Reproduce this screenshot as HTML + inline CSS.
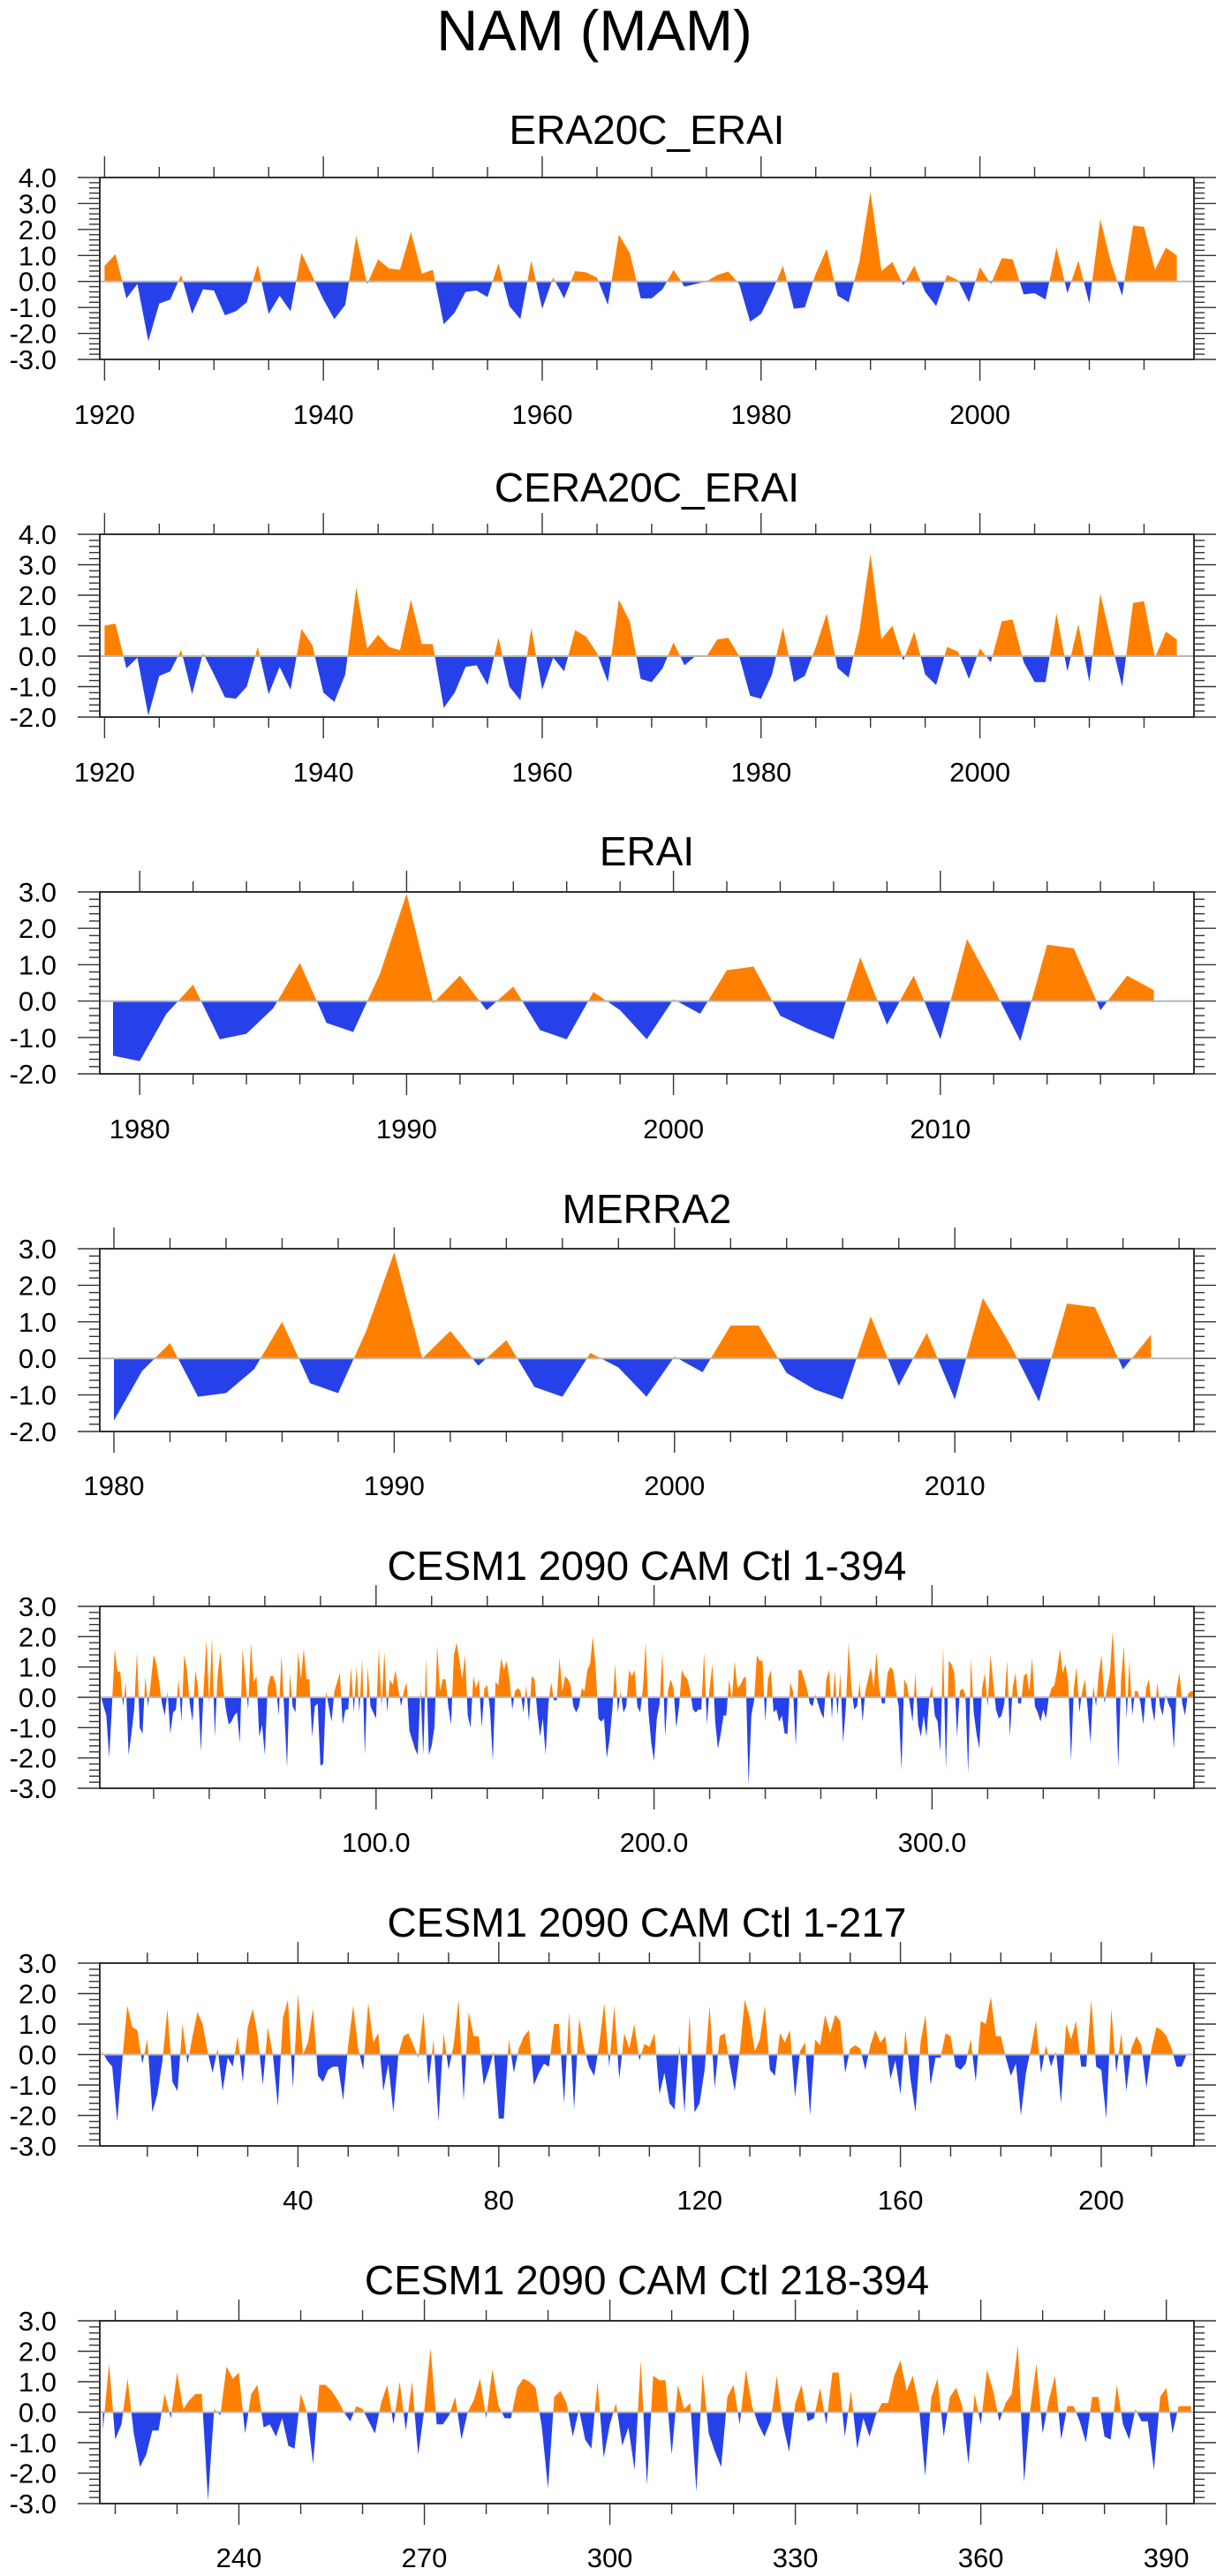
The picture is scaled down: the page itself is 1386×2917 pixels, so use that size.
<!DOCTYPE html>
<html><head><meta charset="utf-8"><title>NAM (MAM)</title>
<style>
html,body{margin:0;padding:0;background:#fff;}
svg{display:block;font-family:"Liberation Sans",Arial,sans-serif;}
</style></head>
<body>
<svg id="chart" width="1386" height="2917" viewBox="0 0 1386 2917" xmlns="http://www.w3.org/2000/svg">
<text x="673" y="57" font-size="65" text-anchor="middle">NAM (MAM)</text>
</svg>
<script>
// ---- data ----
const yearsA = Array.from({length:99},(_,k)=>1920+k);
const era20c = [0.6,1.05,-0.65,-0.1,-2.3,-0.85,-0.7,0.25,-1.25,-0.3,-0.35,-1.3,-1.15,-0.8,0.65,-1.25,-0.55,-1.15,1.1,0.2,-0.7,-1.45,-0.9,1.75,-0.1,0.85,0.5,0.45,1.9,0.3,0.45,-1.65,-1.2,-0.4,-0.35,-0.6,0.7,-0.95,-1.45,0.8,-1.05,0.15,-0.65,0.4,0.35,0.15,-0.9,1.8,1.1,-0.65,-0.65,-0.3,0.45,-0.2,-0.1,0.0,0.25,0.38,-0.1,-1.55,-1.25,-0.4,0.6,-1.05,-1.0,0.3,1.25,-0.55,-0.8,0.8,3.45,0.4,0.75,-0.15,0.6,-0.4,-0.95,0.25,0.05,-0.8,0.55,-0.1,0.9,0.85,-0.5,-0.45,-0.7,1.3,-0.45,0.8,-0.85,2.4,0.7,-0.55,2.15,2.1,0.45,1.3,1.0];
const cera20c = [1.0,1.07,-0.4,-0.05,-1.95,-0.65,-0.5,0.2,-1.25,0.1,-0.6,-1.35,-1.4,-1.0,0.3,-1.25,-0.35,-1.1,0.9,0.35,-1.2,-1.5,-0.6,2.25,0.25,0.7,0.3,0.2,1.85,0.4,0.4,-1.7,-1.2,-0.35,-0.3,-0.95,0.6,-1.0,-1.45,0.92,-1.1,-0.05,-0.5,0.85,0.65,0.1,-0.85,1.85,1.15,-0.75,-0.85,-0.4,0.45,-0.3,0.0,-0.02,0.55,0.6,0.0,-1.3,-1.4,-0.6,0.95,-0.85,-0.65,0.3,1.4,-0.4,-0.7,0.85,3.35,0.55,1.0,-0.15,0.8,-0.6,-0.95,0.3,0.15,-0.75,0.25,-0.2,1.15,1.2,-0.2,-0.85,-0.85,1.4,-0.5,1.05,-0.85,2.05,0.5,-1.0,1.75,1.8,-0.05,0.8,0.55];
const yearsE = Array.from({length:40},(_,k)=>1979+k);
const erai = [-1.5,-1.65,-0.35,0.45,-1.05,-0.9,-0.2,1.05,-0.6,-0.85,0.75,2.95,-0.05,0.7,-0.25,0.4,-0.8,-1.05,0.25,-0.25,-1.05,0.05,-0.35,0.85,0.95,-0.4,-0.75,-1.05,1.2,-0.65,0.7,-1.05,1.7,0.35,-1.1,1.55,1.45,-0.25,0.7,0.3];
const yearsM = Array.from({length:38},(_,k)=>1980+k);
const merra2 = [-1.7,-0.35,0.42,-1.05,-0.95,-0.3,1.0,-0.68,-0.95,0.75,2.9,0.0,0.75,-0.2,0.5,-0.78,-1.05,0.15,-0.25,-1.05,0.05,-0.38,0.9,0.9,-0.4,-0.85,-1.12,1.15,-0.75,0.7,-1.12,1.65,0.35,-1.18,1.5,1.4,-0.3,0.65];
const cesmAll = [0.05,-0.3,-0.6,-2.0,-0.3,1.6,0.85,0.85,-0.3,0.5,
-1.9,-1.2,-0.4,1.5,-1.0,-1.2,0.7,-0.3,0.5,1.4,
1.1,0.5,-0.2,-0.6,0.2,-1.2,-0.5,-0.4,0.6,-0.8,
1.4,0.9,-0.2,-0.8,0.9,0.3,-1.8,0.3,1.9,-0.2,
2.0,-1.3,0.7,1.5,0.3,-0.4,-0.9,-0.8,-0.6,-0.5,
-1.5,1.6,0.6,-0.4,1.8,0.5,0.7,-1.3,-0.9,-1.9,
0.3,0.7,0.7,0.4,-0.6,1.4,-0.5,-2.3,0.8,-0.3,
-0.5,1.5,0.6,1.6,0.6,0.6,-1.3,-0.3,-0.2,-2.25,
-2.2,0.2,-0.3,-0.8,0.2,0.5,0.8,-0.9,-0.4,-0.4,
1.0,-0.5,1.0,-0.5,1.3,-1.9,1.0,-0.3,-0.5,-0.7,
1.6,-0.3,1.5,-0.5,0.6,0.4,0.9,0.3,-0.3,0.2,
0.5,-1.1,-1.4,-1.7,-1.9,0.3,-1.9,1.3,-1.9,-1.6,
-1.0,1.7,0.2,0.6,0.6,-0.3,-0.9,1.4,1.8,1.2,
0.6,1.4,-0.6,-1.0,0.7,0.3,0.6,-1.0,0.3,0.4,
-0.4,-2.1,0.5,0.4,1.3,0.9,1.2,0.6,-0.4,0.2,
0.3,0.2,-0.5,0.4,-0.8,0.7,0.6,-0.5,-1.3,-0.7,
-1.9,-0.2,0.5,-0.1,-0.1,1.3,0.2,0.7,0.6,0.4,
-0.3,-0.5,-0.3,0.3,0.2,0.9,1.1,2.0,1.0,-0.7,
-0.8,-0.7,-2.0,-1.4,-0.4,1.1,-0.5,0.2,-0.5,-0.3,
0.9,0.7,0.9,-0.3,-0.5,0.3,1.8,-0.5,-1.5,-2.1,
-0.7,-0.2,1.5,-1.3,
0.2,0.6,0.3,-1.0,-0.3,0.9,0.7,0.6,0.2,-0.4,
-0.5,-0.4,-0.4,1.5,-0.9,0.3,1.1,-0.8,-1.7,-1.2,
-0.6,-0.6,0.6,-0.1,1.2,0.3,0.4,0.6,0.7,-2.9,
-0.6,-0.1,1.4,1.2,1.2,-0.8,0.6,0.9,-0.5,-0.4,
-0.8,-0.6,-1.2,-1.2,0.5,0.2,-1.6,0.9,0.9,0.6,
0.3,-0.2,-0.3,0.1,-0.2,-0.5,-0.7,0.6,0.9,-0.7,
0.9,-0.6,0.8,-1.5,-0.3,1.8,0.3,-0.4,-0.3,0.5,
-0.8,0.2,0.6,1.0,0.3,1.5,0.3,-0.2,-0.2,0.8,
1.0,0.9,0.2,-0.3,-2.4,0.6,0.4,-0.2,-0.8,0.8,
-0.9,-1.3,-0.6,-1.3,0.0,0.4,-0.6,-0.8,-1.8,1.7,
-2.4,1.2,1.1,0.8,-1.3,0.2,0.3,0.1,-2.5,1.3,
-0.5,-1.2,-1.7,0.3,0.8,-0.3,1.4,0.5,-0.4,-0.7,
-0.6,-0.2,1.2,-1.3,0.3,0.8,-0.2,-0.2,0.7,0.8,
0.2,1.3,-0.3,-0.5,-0.8,-0.4,-0.7,0.0,0.3,0.4,
0.9,1.6,0.8,1.1,0.5,-2.1,0.3,1.0,-0.5,0.2,
0.6,-0.4,-1.5,0.4,-0.3,0.8,1.4,-0.2,0.3,0.8,
2.2,0.4,-2.3,0.6,1.7,-0.7,1.2,-0.6,0.2,0.2,
-0.2,-0.9,0.3,0.6,-0.3,-0.8,0.5,-0.3,-0.6,0.1,
-0.2,-0.4,-1.7,0.3,0.8,-0.2,-0.6,0.1,0.2,0.2];
const cesmFirst = [0.1,-0.2,-0.4,-2.2,-0.2,1.6,0.9,0.8,-0.3,0.5,
-1.9,-1.3,-0.2,1.5,-0.9,-1.2,1.0,-0.3,0.6,1.4,
1.0,0.1,-0.6,0.2,-1.2,-0.1,-0.4,0.6,-0.9,0.9,
1.5,0.6,-1.0,0.9,0.0,-1.7,1.2,1.8,-1.1,2.0,
0.0,0.4,1.5,-0.7,-0.9,-0.5,-0.4,-0.4,-1.5,0.3,
1.6,0.2,-0.5,1.7,0.4,0.7,-1.2,-0.3,-1.9,0.0,
0.6,0.7,0.3,-0.1,1.4,-1.0,0.5,-2.2,0.7,-0.5,
0.3,1.8,-1.5,1.4,0.6,0.6,-1.0,-0.5,0.1,-2.1,
-2.1,0.5,-0.6,0.2,0.6,0.8,-1.0,-0.6,-0.3,-0.4,
1.0,1.0,-1.6,1.4,-1.8,1.2,0.2,-0.4,-0.7,0.3,
1.7,-0.4,1.6,-0.8,0.7,0.2,1.0,-0.2,
0.35,0.25,0.7,-1.3,-0.6,-1.6,-1.8,0.3,-1.9,1.3,-1.9,-1.6,
-0.5,1.6,-1.1,0.6,0.7,-0.3,-1.2,0.1,1.8,1.2,
0.1,0.5,1.6,-0.5,-0.7,0.7,0.4,0.8,-1.4,0.1,
0.4,-2.0,0.5,0.3,1.3,0.7,1.3,1.1,-0.6,0.2,
0.3,0.2,-0.5,0.3,0.8,0.4,0.6,-0.8,-0.2,-1.3,
0.8,-0.8,-1.9,0.4,1.3,-1.0,-0.1,-0.1,0.7,0.6,
-0.4,-0.5,-0.3,0.5,-0.9,1.1,1.0,1.9,0.6,0.6,
-0.1,-0.7,-0.3,-2.0,-0.6,0.2,1.1,-0.6,0.3,-0.4,
0.1,-1.6,1.0,0.5,1.1,-0.4,-0.4,1.8,-0.4,-0.5,
-2.1,1.5,-0.6,0.7,-1.2,0.2,0.6,0.3,-1.1,0.2,
0.9,0.8,0.6,0.2,-0.4,-0.4,0.0];
const cesmSecond = [-0.6,1.6,-0.9,-0.4,1.1,-0.7,-1.8,-1.4,-0.6,-0.6,
0.6,-0.2,1.3,0.1,0.4,0.6,0.6,-2.9,0.1,-0.1,
1.5,1.1,1.3,-0.7,0.6,0.9,-0.5,-0.4,-0.8,-0.2,
-1.1,-1.2,0.6,0.0,-1.7,0.9,0.9,0.7,0.4,0.0,
-0.3,0.2,0.1,-0.3,-0.7,0.3,0.9,-0.4,1.0,-0.6,
1.0,-1.4,0.1,2.1,-0.4,-0.4,-0.1,0.5,-0.9,0.0,
0.4,1.1,-0.2,1.4,0.2,-0.2,-0.2,0.8,1.1,1.0,
0.8,-0.5,-2.5,0.5,0.7,0.3,-0.8,0.1,-0.9,-1.2,
1.0,-1.5,-0.4,0.3,-1.1,-0.5,-1.9,1.7,-2.4,1.2,
1.05,1.05,
-1.4,0.9,0.1,0.3,-2.6,1.3,-0.7,-1.3,-1.8,0.5,
0.9,-0.4,1.4,0.2,-0.4,-0.8,-0.3,1.2,-0.4,-1.3,
0.3,0.9,-0.3,-0.2,0.8,-0.4,1.3,1.3,-0.8,0.7,
-1.2,-0.2,-0.8,-0.1,0.3,0.3,1.2,1.7,0.7,1.2,
0.2,-2.1,0.5,1.1,-0.8,0.5,0.8,0.2,-1.7,0.6,
-0.4,1.4,0.7,-0.3,0.3,0.6,2.2,-2.3,0.1,1.6,
-0.7,0.4,1.2,-0.9,0.2,0.2,-0.3,-1.0,0.5,0.5,
-0.8,-0.9,0.9,-0.4,-0.9,0.1,-0.3,-0.3,-1.9,0.5,
0.8,-0.7,0.2,0.2,0.2];
const tickYearsA = [1920,1940,1960,1980,2000];
const tickYearsE = [1980,1990,2000,2010];
const tickAll = [100,200,300];
const tickAllLabels = ["100.0","200.0","300.0"];
const tickFirst = [40,80,120,160,200];
const tickSecond = [240,270,300,330,360,390];

// ---- drawing ----
const NS="http://www.w3.org/2000/svg";
const svg=document.getElementById('chart');
function mk(tag,attrs,parent){const e=document.createElementNS(NS,tag);for(const k in attrs)e.setAttribute(k,attrs[k]);(parent||svg).appendChild(e);return e;}
const L=113,R=1352;
const panels=[
 {name:'era20c-erai',title:'ERA20C_ERAI',tb:163,top:201,bot:407,ymin:-3,ymax:4,xs:yearsA,ys:era20c,x0:1920,px0:118.4,ppu:12.39,major:tickYearsA,labels:null,minorStep:5,minorFrom:1915,minorTo:2020,lb:480},
 {name:'cera20c-erai',title:'CERA20C_ERAI',tb:568,top:605,bot:812,ymin:-2,ymax:4,xs:yearsA,ys:cera20c,x0:1920,px0:118.4,ppu:12.39,major:tickYearsA,labels:null,minorStep:5,minorFrom:1915,minorTo:2020,lb:885},
 {name:'erai',title:'ERAI',tb:980,top:1010,bot:1216,ymin:-2,ymax:3,xs:yearsE,ys:erai,x0:1980,px0:158.2,ppu:30.22,major:tickYearsE,labels:null,minorStep:2,minorFrom:1978,minorTo:2020,lb:1289},
 {name:'merra2',title:'MERRA2',tb:1385,top:1414,bot:1621,ymin:-2,ymax:3,xs:yearsM,ys:merra2,x0:1980,px0:129,ppu:31.74,major:tickYearsE,labels:null,minorStep:2,minorFrom:1978,minorTo:2020,lb:1693},
 {name:'cesm-1-394',title:'CESM1 2090 CAM Ctl 1-394',tb:1789,top:1819,bot:2025,ymin:-3,ymax:3,xs:cesmAll.map((_,k)=>k+1),ys:cesmAll,x0:0,px0:111,ppu:3.148,major:tickAll,labels:tickAllLabels,minorStep:20,minorFrom:0,minorTo:400,lb:2097},
 {name:'cesm-1-217',title:'CESM1 2090 CAM Ctl 1-217',tb:2193,top:2223,bot:2430,ymin:-3,ymax:3,xs:cesmFirst.map((_,k)=>k+1),ys:cesmFirst,x0:0,px0:110,ppu:5.685,major:tickFirst,labels:null,minorStep:10,minorFrom:0,minorTo:220,lb:2502},
 {name:'cesm-218-394',title:'CESM1 2090 CAM Ctl 218-394',tb:2598,top:2628,bot:2835,ymin:-3,ymax:3,xs:cesmSecond.map((_,k)=>k+218),ys:cesmSecond,x0:218,px0:116.5,ppu:7.001,major:tickSecond,labels:null,minorStep:10,minorFrom:220,minorTo:400,lb:2907}
];
let cid=0;
panels.forEach(p=>{
 const g=mk('g',{});
 
 
 const X=v=>p.px0+(v-p.x0)*p.ppu;
 const Y=v=>p.bot-(v-p.ymin)*(p.bot-p.top)/(p.ymax-p.ymin);
 const t=mk('text',{x:(L+R)/2,y:p.tb,'font-size':46,'text-anchor':'middle'},g);
 t.textContent=p.title;
 
 
 const y0=Y(0);
 // clip paths
 cid++;
 const defs=mk('defs',{},g);
 const cu=mk('clipPath',{id:'cu'+cid},defs); mk('rect',{x:L,y:p.top,width:R-L,height:y0-p.top},cu);
 const cd=mk('clipPath',{id:'cd'+cid},defs); mk('rect',{x:L,y:y0,width:R-L,height:p.bot-y0},cd);
 let d='M'+X(p.xs[0]).toFixed(2)+','+y0.toFixed(2);
 for(let k=0;k<p.ys.length;k++) d+='L'+X(p.xs[k]).toFixed(2)+','+Y(p.ys[k]).toFixed(2);
 d+='L'+X(p.xs[p.xs.length-1]).toFixed(2)+','+y0.toFixed(2)+'Z';
 const pos=mk('path',{d:d,fill:'#ff8000','clip-path':'url(#cu'+cid+')'},g);
 
 
 const neg=mk('path',{d:d,fill:'#2741ea','clip-path':'url(#cd'+cid+')'},g);
 
 
 const zl=mk('line',{x1:L,x2:R,y1:y0,y2:y0,stroke:'#b8b8b8','stroke-width':2},g);
 
 
 // frame
 const fr=mk('rect',{x:L,y:p.top,width:R-L,height:p.bot-p.top,fill:'none',stroke:'#000','stroke-width':1.6},g);
 
 
 // y ticks
 const yt=mk('g',{stroke:'#333','stroke-width':1.4},g);
 
 
 for(let v=p.ymin;v<=p.ymax+1e-6;v+=0.2){
  const yy=Y(v);const maj=Math.abs(v-Math.round(v))<1e-6;
  const len=maj?25:12;
  mk('line',{x1:L-len,x2:L,y1:yy,y2:yy},yt);
  mk('line',{x1:R,x2:R+len,y1:yy,y2:yy},yt);
  if(maj){
   const lab=mk('text',{x:64,y:yy+11,'font-size':31,'text-anchor':'end'},g);
   lab.textContent=(Math.round(v)).toFixed(1);
   
   
  }
 }
 // x ticks
 const xt=mk('g',{stroke:'#333','stroke-width':1.4},g);
 
 
 for(let v=p.minorFrom;v<=p.minorTo;v+=p.minorStep){
  const xx=X(v); if(xx<L+2||xx>R-2) continue;
  const maj=p.major.includes(v);
  const len=maj?24:12;
  mk('line',{x1:xx,x2:xx,y1:p.top-len,y2:p.top},xt);
  mk('line',{x1:xx,x2:xx,y1:p.bot,y2:p.bot+len},xt);
 }
 p.major.forEach((v,k)=>{
  const lab=mk('text',{x:X(v),y:p.lb,'font-size':31,'text-anchor':'middle'},g);
  lab.textContent=p.labels?p.labels[k]:String(v);
  
  
 });
});
</script>
</body></html>
